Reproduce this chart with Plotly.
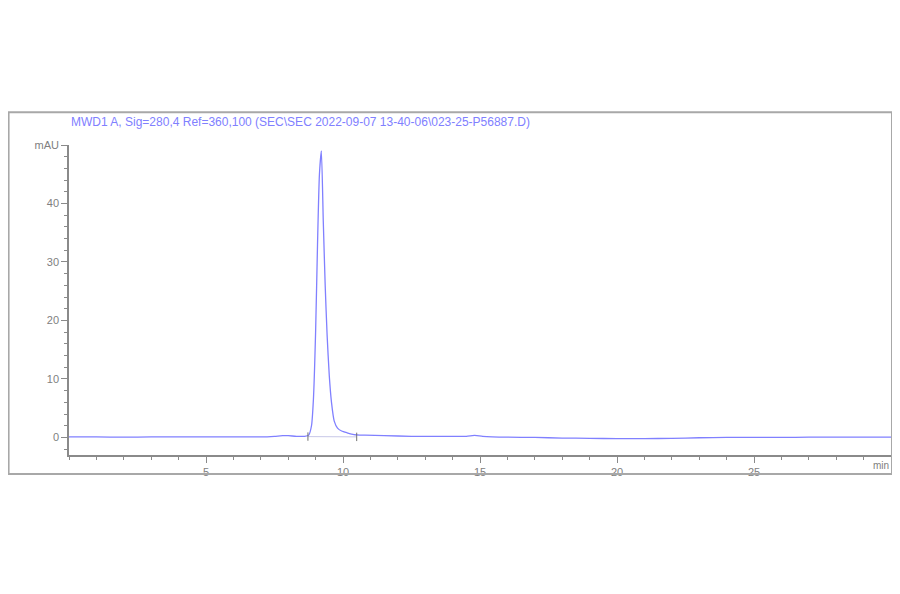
import plotly.graph_objects as go

# retention time (min) and signal (mAU)
time_min = [0, 1, 2, 3, 4, 5, 6, 7, 7.5, 7.8, 8.0, 8.3, 8.6, 8.75, 8.85, 8.92,
            9.0, 9.07, 9.14, 9.21, 9.28, 9.35, 9.42, 9.5, 9.58, 9.68, 9.8, 9.95,
            10.15, 10.4, 10.8, 11.5, 12.5, 13.5, 14.5, 14.8, 15.1, 16, 17, 18,
            19, 20, 21, 22, 23, 24, 25, 26, 27, 28, 29, 30]
signal_mau = [0.1, 0.1, 0.05, 0.1, 0.1, 0.1, 0.1, 0.1, 0.2, 0.3, 0.3, 0.2, 0.2,
              0.4, 2.0, 6.5, 18, 33, 45, 49, 37, 26, 17.5, 10.5, 6, 2.8, 1.6,
              1.1, 0.8, 0.5, 0.4, 0.3, 0.2, 0.2, 0.2, 0.35, 0.2, 0.05, 0, -0.1,
              -0.15, -0.2, -0.2, -0.15, -0.05, 0, 0, 0, 0.05, 0.05, 0.05, 0.05]

# integration baseline under the main peak
base_t = [8.72, 10.5]
base_y = [0.15, 0.1]

x_ticks = [5, 10, 15, 20, 25]
y_ticks = [0, 10, 20, 30, 40, 50]
y_labels = ["0", "10", "20", "30", "40", "mAU"]

title = "MWD1 A, Sig=280,4 Ref=360,100 (SEC\\SEC 2022-09-07 13-40-06\\023-25-P56887.D)"

axis_grey = "#8a8a8a"
line_blue = "#8080ff"

fig = go.Figure()
fig.add_trace(go.Scatter(x=time_min, y=signal_mau, mode="lines",
                         line=dict(color=line_blue, width=1.3, shape="spline", smoothing=0.6),
                         hoverinfo="x+y"))
fig.add_trace(go.Scatter(x=base_t, y=base_y, mode="lines+markers",
                         line=dict(color="#c8c8e8", width=1),
                         marker=dict(symbol="line-ns", size=6, line=dict(color="#707070", width=1)),
                         hoverinfo="skip"))

fig.update_xaxes(range=[0, 30], tickvals=x_ticks, showgrid=False, zeroline=False,
                 showline=True, linecolor=axis_grey, linewidth=1.5,
                 ticks="outside", ticklen=6, tickcolor=axis_grey,
                 tickfont=dict(family="Arial", size=11, color="#808080"),
                 minor=dict(dtick=1, tick0=0, ticks="outside", ticklen=3, tickcolor=axis_grey))
fig.update_yaxes(range=[-3, 50], tickvals=y_ticks, ticktext=y_labels, showgrid=False,
                 zeroline=False, showline=True, linecolor=axis_grey, linewidth=1.5,
                 ticks="outside", ticklen=6, tickcolor=axis_grey,
                 tickfont=dict(family="Arial", size=11, color="#808080"),
                 minor=dict(dtick=2, tick0=0, ticks="outside", ticklen=3, tickcolor=axis_grey))

# outer instrument frame
fig.add_shape(type="rect", xref="paper", yref="paper",
              x0=-0.0735, x1=1.0012, y0=-0.0613, y1=1.106,
              line=dict(color="#a8a8a8", width=2))

fig.add_annotation(text=title, xref="paper", yref="paper", x=0.0, y=1.074,
                   xanchor="left", yanchor="middle", showarrow=False,
                   font=dict(family="Arial", size=12, color=line_blue))
fig.add_annotation(text="min", xref="x", yref="paper", x=30, y=-0.035,
                   xanchor="right", yanchor="middle", showarrow=False,
                   font=dict(family="Arial", size=10, color="#808080"))

# page body adds 8px, so the figure is sized to the remaining window
fig.update_layout(width=892, height=586, showlegend=False,
                  paper_bgcolor="white", plot_bgcolor="white",
                  margin=dict(l=61, r=9, t=137, b=139))

fig.write_html("out.html")
